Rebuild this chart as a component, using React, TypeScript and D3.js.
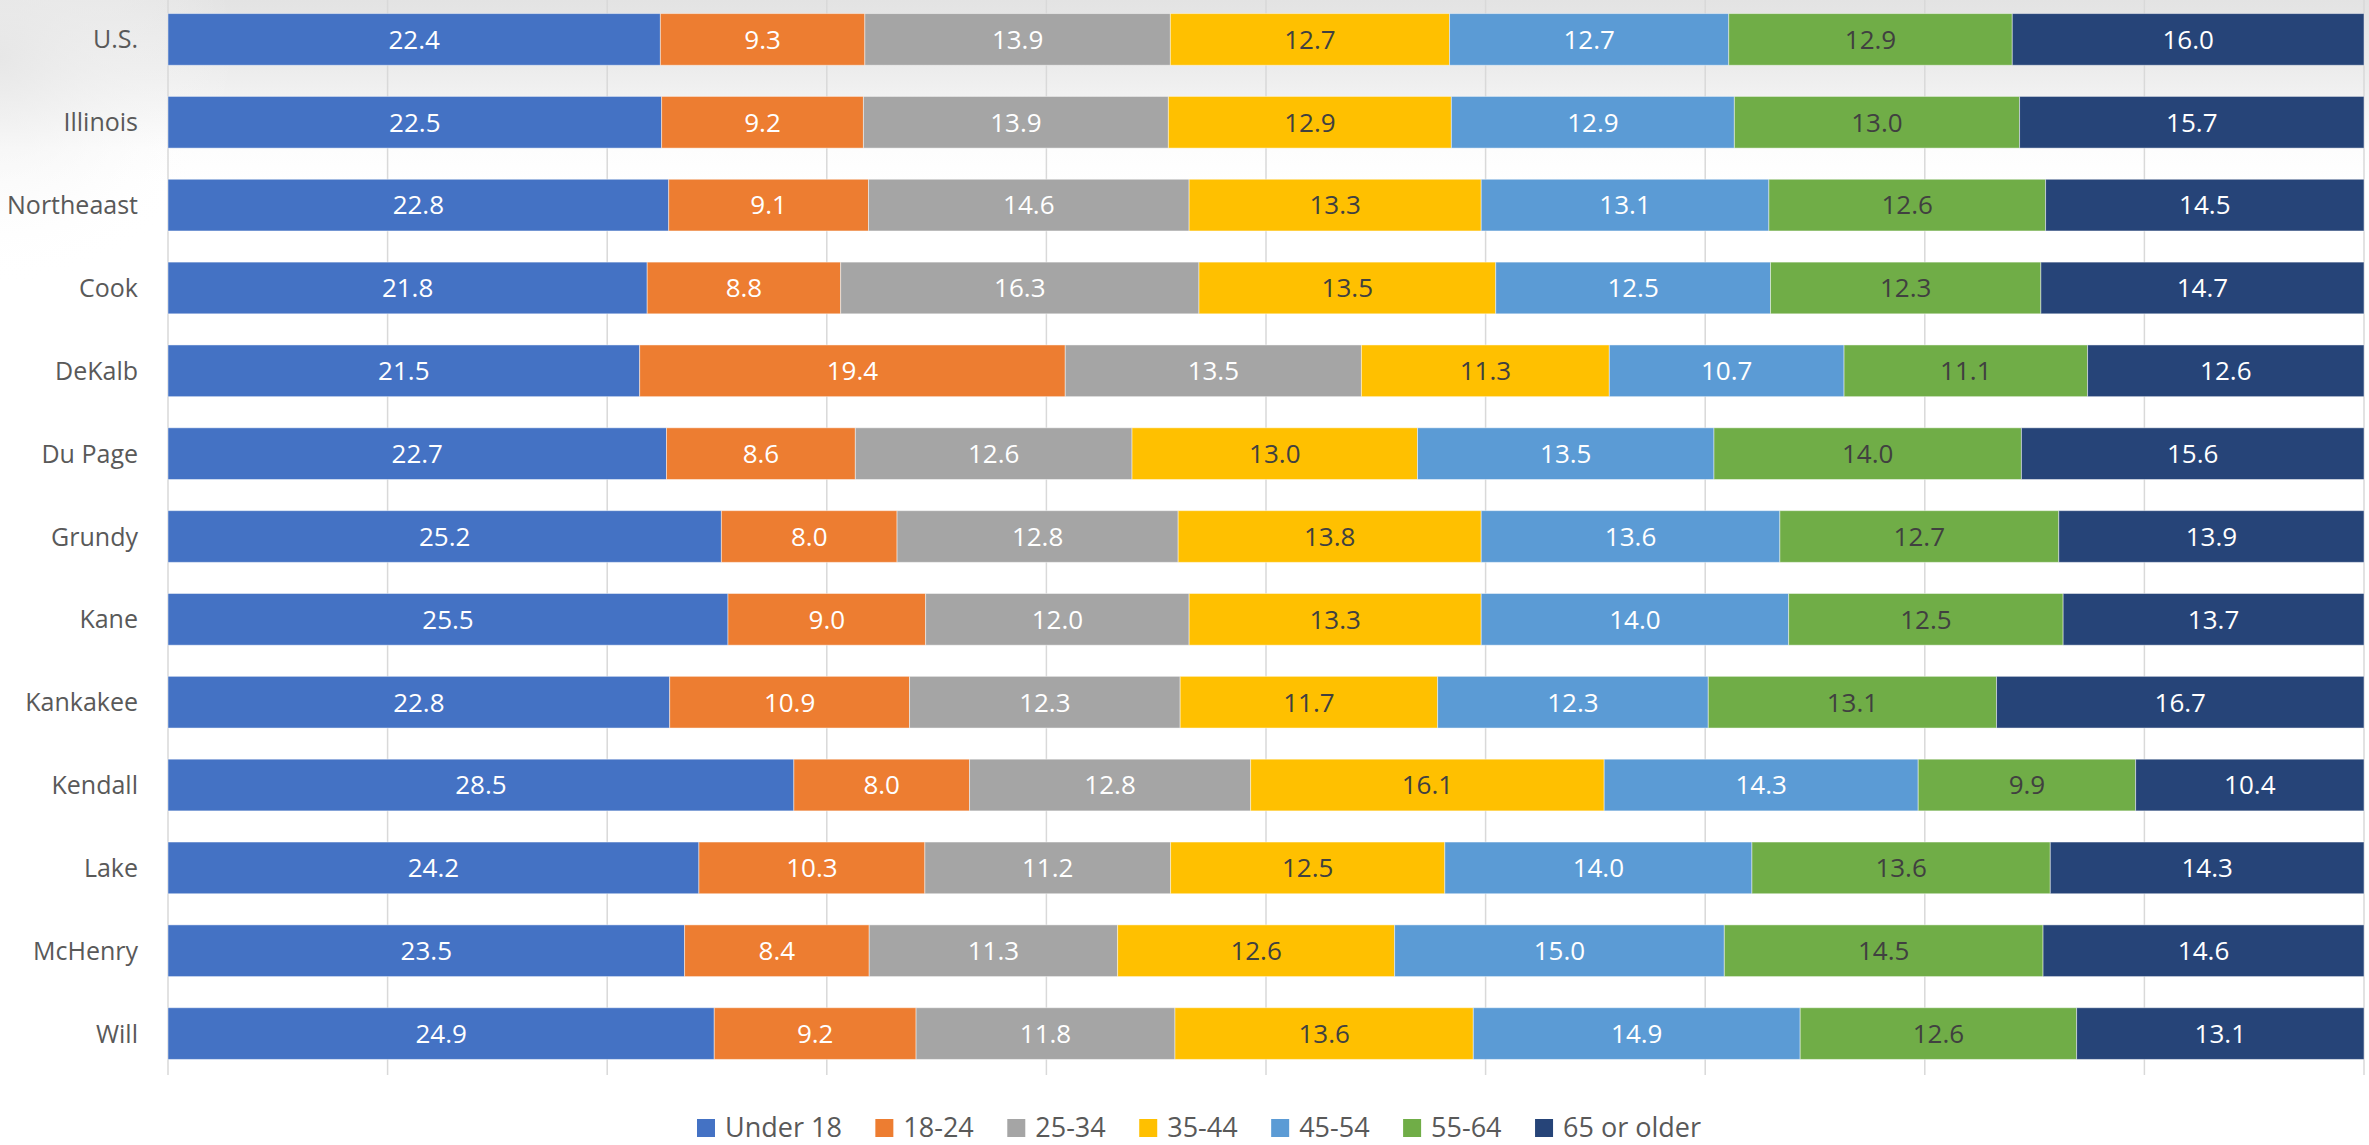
import React, { useMemo } from "react";
import * as d3 from "d3";

const categories = [
  "U.S.", "Illinois", "Northeaast", "Cook", "DeKalb", "Du Page", "Grundy",
  "Kane", "Kankakee", "Kendall", "Lake", "McHenry", "Will",
];
const seriesNames = ["Under 18", "18-24", "25-34", "35-44", "45-54", "55-64", "65 or older"];
const under18 = [22.4, 22.5, 22.8, 21.8, 21.5, 22.7, 25.2, 25.5, 22.8, 28.5, 24.2, 23.5, 24.9];
const age18to24 = [9.3, 9.2, 9.1, 8.8, 19.4, 8.6, 8.0, 9.0, 10.9, 8.0, 10.3, 8.4, 9.2];
const age25to34 = [13.9, 13.9, 14.6, 16.3, 13.5, 12.6, 12.8, 12.0, 12.3, 12.8, 11.2, 11.3, 11.8];
const age35to44 = [12.7, 12.9, 13.3, 13.5, 11.3, 13.0, 13.8, 13.3, 11.7, 16.1, 12.5, 12.6, 13.6];
const age45to54 = [12.7, 12.9, 13.1, 12.5, 10.7, 13.5, 13.6, 14.0, 12.3, 14.3, 14.0, 15.0, 14.9];
const age55to64 = [12.9, 13.0, 12.6, 12.3, 11.1, 14.0, 12.7, 12.5, 13.1, 9.9, 13.6, 14.5, 12.6];
const age65plus = [16.0, 15.7, 14.5, 14.7, 12.6, 15.6, 13.9, 13.7, 16.7, 10.4, 14.3, 14.6, 13.1];
const seriesValues = [under18, age18to24, age25to34, age35to44, age45to54, age55to64, age65plus];
const gridTicks = [0, 0.1, 0.2, 0.3, 0.4, 0.5, 0.6, 0.7, 0.8, 0.9, 1.0];

const colors = ["#4472C4", "#ED7D31", "#A5A5A5", "#FFC000", "#5B9BD5", "#70AD47", "#264478"];
const labelColors = ["#FFFFFF", "#FFFFFF", "#FFFFFF", "#404040", "#FFFFFF", "#404040", "#FFFFFF"];

const W = 2369;
const H = 1145;
const FONT = "'Open Sans', 'Noto Sans', sans-serif";
const LEGEND_FS = 27;

function measure(text: string, size: number): number {
  const c = document.createElement("canvas");
  const ctx = c.getContext("2d");
  if (!ctx) return text.length * size * 0.55;
  ctx.font = `${size}px 'Open Sans'`;
  return ctx.measureText(text).width;
}

export default function App() {
  const x = d3.scaleLinear().domain([0, 1]).range([168, 2364]);
  const y = d3.scaleBand<string>().domain(categories).range([-2, 1075]).paddingInner(0.376).paddingOuter(0.188);

  const rows = categories.map((cat, i) => {
    const vals = seriesValues.map((s) => s[i]);
    const total = d3.sum(vals);
    let acc = 0;
    const segs = vals.map((v, k) => {
      const x0 = acc / total;
      acc += v;
      const x1 = acc / total;
      return { k, v, x0, x1 };
    });
    return { cat, segs };
  });

  const legend = useMemo(() => {
    const sq = 18, gap = 10, itemGap = 33.5;
    const widths = seriesNames.map((n) => measure(n, LEGEND_FS));
    const total = d3.sum(widths) + seriesNames.length * (sq + gap) + (seriesNames.length - 1) * itemGap;
    let cx = 1199 - total / 2;
    return seriesNames.map((n, i) => {
      const item = { n, i, x: cx };
      cx += sq + gap + widths[i] + itemGap;
      return item;
    });
  }, []);

  return (
    <svg width={W} height={H} style={{ position: "absolute", left: 0, top: 0, background: "#fff" }}>
      <defs>
        <linearGradient id="bg" x1="0" y1="0" x2="0" y2="1">
          <stop offset="0" stopColor="#e3e3e3" />
          <stop offset="0.06" stopColor="#ececec" />
          <stop offset="0.13" stopColor="#fdfdfd" />
          <stop offset="0.16" stopColor="#ffffff" />
        </linearGradient>
        <radialGradient id="bgl" cx="0" cy="0.05" r="0.2" gradientTransform="scale(0.5,1)">
          <stop offset="0" stopColor="#e6e6e6" stopOpacity="0.8" />
          <stop offset="1" stopColor="#ffffff" stopOpacity="0" />
        </radialGradient>
      </defs>
      <rect x={0} y={0} width={W} height={H} fill="url(#bg)" />
      <rect x={0} y={0} width={W} height={H} fill="url(#bgl)" />
      <g>
        {gridTicks.map((t) => (
          <line key={t} x1={x(t)} x2={x(t)} y1={0} y2={1075} stroke="#d9d9d9" strokeWidth={1.5} />
        ))}
      </g>
      <g>
        {rows.map((r) => (
          <g key={r.cat}>
            {r.segs.map((s) => (
              <rect
                key={s.k}
                x={x(s.x0)}
                y={y(r.cat)}
                width={x(s.x1) - x(s.x0)}
                height={y.bandwidth()}
                fill={colors[s.k]}
                stroke="#ffffff"
                strokeOpacity={0.45}
                strokeWidth={1}
              />
            ))}
            {r.segs.map((s) => (
              <text
                key={"t" + s.k}
                x={(x(s.x0) + x(s.x1)) / 2}
                y={(y(r.cat) as number) + y.bandwidth() / 2}
                dy="0.36em"
                textAnchor="middle"
                fontFamily={FONT}
                fontSize={26}
                fill={labelColors[s.k]}
              >
                {s.v.toFixed(1)}
              </text>
            ))}
            <text
              x={138}
              y={(y(r.cat) as number) + y.bandwidth() / 2}
              dy="0.36em"
              textAnchor="end"
              fontFamily={FONT}
              fontSize={25}
              fill="#595959"
            >
              {r.cat}
            </text>
          </g>
        ))}
      </g>
      <g>
        {legend.map((l) => (
          <g key={l.n}>
            <rect x={l.x} y={1119} width={18} height={18} fill={colors[l.i]} />
            <text x={l.x + 28} y={1137} fontFamily={FONT} fontSize={LEGEND_FS} fill="#595959">
              {l.n}
            </text>
          </g>
        ))}
      </g>
    </svg>
  );
}
